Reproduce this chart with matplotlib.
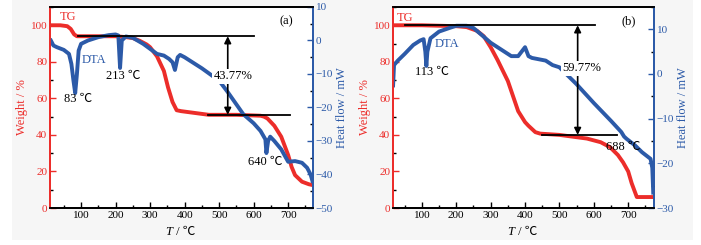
import matplotlib.pyplot as plt
from matplotlib.patches import Rectangle
from matplotlib.ticker import MultipleLocator

plt.rcParams['font.family'] = ['Liberation Serif', 'Noto Sans CJK SC']

RED = '#ec2d2a'
BLUE = '#2c5aa8'

# ---- panel (a) ----
tg_a_t = [10, 40, 60, 70, 80, 88, 100, 150, 200, 230, 250, 270, 290, 300, 320, 340, 352,
          365, 377, 390, 430, 470, 550, 620, 630, 640, 660, 680, 700, 710, 720, 740, 760, 772]
tg_a_w = [100, 100, 99.5, 98, 95, 94, 94, 94, 94, 93.5, 93, 91.5, 89.5, 88, 83, 75, 66,
          58, 53.5, 53, 52, 51, 51, 50.5, 50, 49, 45, 39, 29, 22.5, 18, 14.4, 13, 12.5]
dta_a_t = [10, 20, 30, 50, 65, 72, 78, 83, 88, 93, 100, 120, 150, 180, 200, 208, 213, 218,
           230, 250, 280, 300, 320, 340, 355, 365, 372, 380, 387, 400, 450, 500, 525, 570,
           600, 620, 634, 637, 642, 648, 660, 680, 700, 720, 740, 755, 765, 772]
dta_a_h = [0.5, -1.5, -2, -2.8, -4, -7, -12, -15.7, -10, -3, -1, 0, 1, 1.6, 1.8, 1.5, -8.2, 0,
           1.2, 0.8, -1, -2.5, -4, -4.5, -5.5, -6.5, -8.8, -5, -4.3, -5, -8.3, -12, -15.4, -22,
           -24.7, -27, -29.5, -33.6, -30, -28.7, -30, -32.5, -36.2, -36, -36.5, -38, -40, -42.5]

# ---- panel (b) ----
tg_b_t = [15, 100, 200, 230, 260, 280, 300, 320, 350, 380, 400, 410, 430, 444, 500,
          580, 620, 647, 670, 685, 700, 710, 725, 740, 775]
tg_b_w = [100, 100, 99.5, 99, 97, 94, 88, 81, 69.5, 53, 47, 45, 41.5, 40.7, 40,
          38, 36, 33.3, 29, 25, 20, 13.6, 6, 6, 6]
dta_b_t = [16, 19, 30, 50, 75, 95, 105, 110, 113, 116, 125, 150, 180, 200, 230, 250, 270,
           300, 320, 340, 360, 380, 395, 400, 410, 420, 440, 460, 480, 500, 550, 600, 650,
           680, 688, 695, 720, 740, 765, 770, 773]
dta_b_h = [-3, 2, 3, 4.5, 6.5, 7.5, 7.8, 5, 1.8, 5, 8, 9.5, 10.3, 10.8, 10.8, 10.3, 9,
           7, 6, 5, 4, 4, 5.5, 6, 4, 3.6, 3.3, 3, 2, 1.5, -2.3, -6.5, -10.5,
           -13, -14, -14.5, -16, -17.5, -19, -21, -27]

panels = [
    dict(rect=[50 / 701, 37 / 245, 263 / 701, 201 / 245], xlim=(10, 772), hlim=(-50, 10),
         tg=(tg_a_t, tg_a_w), dta=(dta_a_t, dta_a_h), tag='(a)', tag_xy=(694, 102),
         top=(90, 600, 94), low=(468, 705, 51), arrow_x=525, pct='43.77%', pct_xy=(540, 72),
         tg_xy=(62, 104.5), dta_xy=(138, 81),
         peaks=[('83 ℃', 91, 59.5), ('213 ℃', 221, 72), ('640 ℃', 633, 25)]),
    dict(rect=[393 / 701, 37 / 245, 261 / 701, 201 / 245], xlim=(16, 775), hlim=(-30, 15),
         tg=(tg_b_t, tg_b_w), dta=(dta_b_t, dta_b_h), tag='(b)', tag_xy=(700, 102),
         top=(51, 603, 100), low=(449, 667, 40), arrow_x=553, pct='59.77%', pct_xy=(564, 76.5),
         tg_xy=(52, 104), dta_xy=(174, 89.5),
         peaks=[('113 ℃', 129, 74.5), ('688 ℃', 685, 33.5)]),
]

fig = plt.figure(figsize=(7.01, 2.45), dpi=100)
fig.patches.append(Rectangle((12 / 701, 5 / 245), 681 / 701, 240 / 245,
                             transform=fig.transFigure, facecolor='#f6f6f6',
                             edgecolor='none', zorder=-10))

for p in panels:
    ax = fig.add_axes(p['rect'])
    ax2 = ax.twinx()
    ax.plot(*p['tg'], color=RED, lw=2.8, solid_capstyle='butt')
    ax2.plot(*p['dta'], color=BLUE, lw=2.8, solid_capstyle='butt')

    ax.set_xlim(*p['xlim'])
    ax.set_ylim(0, 110)
    ax2.set_ylim(*p['hlim'])

    ax.xaxis.set_major_locator(MultipleLocator(100))
    ax.xaxis.set_minor_locator(MultipleLocator(50))
    ax.yaxis.set_major_locator(MultipleLocator(20))
    ax.yaxis.set_minor_locator(MultipleLocator(10))
    ax2.yaxis.set_major_locator(MultipleLocator(10))
    ax2.yaxis.set_minor_locator(MultipleLocator(5))

    for a in (ax, ax2):
        a.tick_params(which='both', direction='in', labelsize=8, pad=2)
        a.tick_params(which='major', length=4, width=1)
        a.tick_params(which='minor', length=2.5, width=1)
        for s in a.spines.values():
            s.set_linewidth(1.3)
    ax.tick_params(axis='y', colors=RED)
    ax2.tick_params(axis='y', colors=BLUE)
    ax.tick_params(axis='x', top=False)
    ax.spines['left'].set_color(RED)
    ax2.spines['left'].set_color(RED)
    ax.spines['right'].set_color(BLUE)
    ax2.spines['right'].set_color(BLUE)

    # x label "T / ℃" with italic T
    ax.text(0.466, -0.118, 'T', style='italic', fontsize=9, ha='right', va='center',
            transform=ax.transAxes)
    ax.text(0.466, -0.118, ' / ℃', fontsize=9, ha='left', va='center',
            transform=ax.transAxes)
    ax.set_ylabel('Weight / %', fontsize=9, color=RED, labelpad=2)
    ax2.set_ylabel('Heat flow / mW', fontsize=9, color=BLUE, labelpad=2)

    td = ax.transData
    x0, x1, y = p['top']
    ax2.plot([x0, x1], [y, y], color='black', lw=1.3, transform=td)
    x0, x1, y = p['low']
    ax2.plot([x0, x1], [y, y], color='black', lw=1.3, transform=td)
    ax2.annotate('', xy=(p['arrow_x'], p['top'][2]), xytext=(p['arrow_x'], p['low'][2]),
                 xycoords=td, textcoords=td,
                 arrowprops=dict(arrowstyle='<|-|>', color='black', lw=1.2,
                                 mutation_scale=10, shrinkA=0, shrinkB=0))
    ax2.text(*p['pct_xy'], p['pct'], transform=td, ha='center', va='center', fontsize=9,
             bbox=dict(facecolor='white', edgecolor='none', pad=1))
    ax2.text(*p['tag_xy'], p['tag'], transform=td, ha='center', va='center', fontsize=9)
    ax2.text(*p['tg_xy'], 'TG', transform=td, ha='center', va='center', fontsize=9, color=RED)
    ax2.text(*p['dta_xy'], 'DTA', transform=td, ha='center', va='center', fontsize=9, color=BLUE)
    for label, x, y in p['peaks']:
        ax2.text(x, y, label, transform=td, ha='center', va='center', fontsize=9)

fig.savefig('out.png', dpi=100, facecolor='white')
